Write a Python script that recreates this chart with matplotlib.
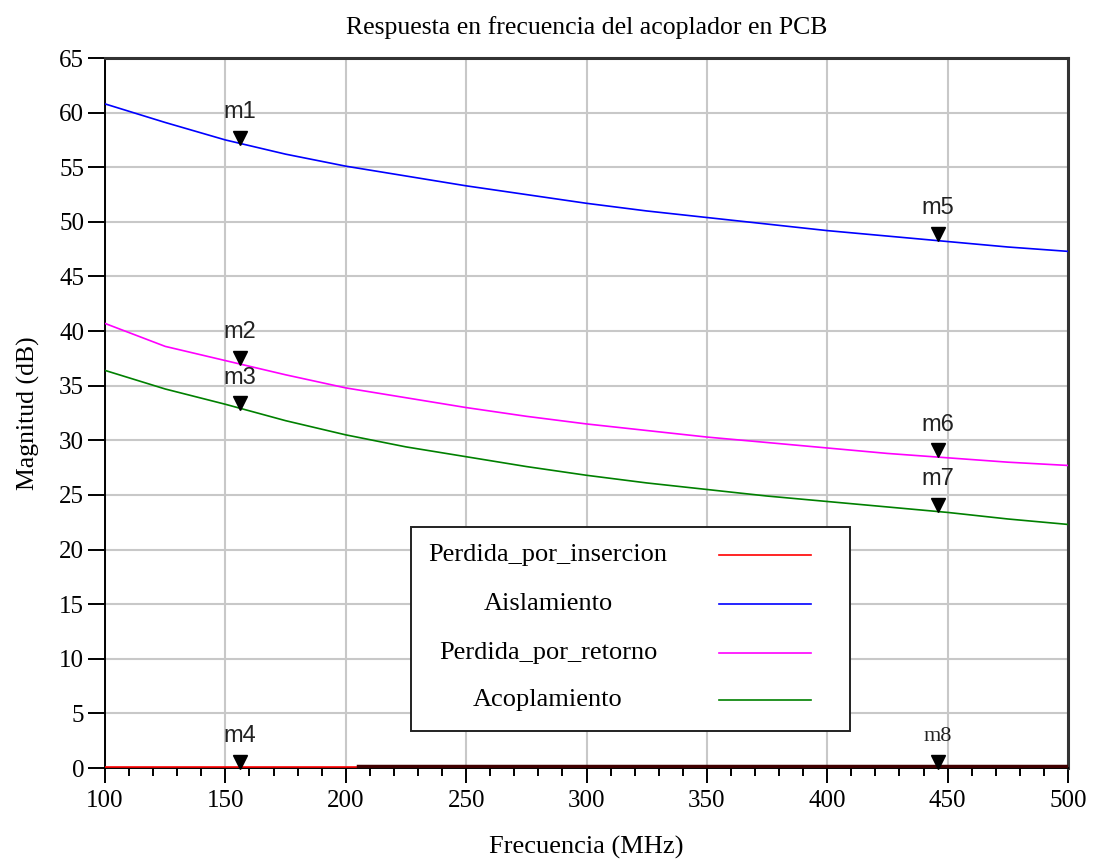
import numpy as np
import matplotlib
matplotlib.use('Agg')
import matplotlib.pyplot as plt
from matplotlib.patches import Rectangle
from matplotlib.transforms import offset_copy

# frequency grid (MHz) and traces (dB)
freq = [100, 125, 150, 175, 200, 225, 250, 275, 300, 325, 350, 375, 400, 425, 450, 475, 500]
aislamiento = [60.8, 59.1, 57.5, 56.2, 55.1, 54.2, 53.3, 52.5, 51.7, 51.0, 50.4, 49.8, 49.2, 48.7, 48.2, 47.7, 47.3]
perdida_retorno = [40.7, 38.6, 37.3, 36.0, 34.8, 33.9, 33.0, 32.2, 31.5, 30.9, 30.3, 29.8, 29.3, 28.8, 28.4, 28.0, 27.7]
acoplamiento = [36.4, 34.7, 33.3, 31.8, 30.5, 29.4, 28.5, 27.6, 26.8, 26.1, 25.5, 24.9, 24.4, 23.9, 23.4, 22.8, 22.3]
perdida_insercion = [0.05] * len(freq)
# darker overlapping trace near 0 dB from ~205 MHz
freq_dark = [205, 500]
dark_trace = [0.15, 0.15]

series_names = ['Perdida_por_insercion', 'Aislamiento', 'Perdida_por_retorno', 'Acoplamiento']
series_colors = ['#ff0000', '#0000ff', '#ff00ff', '#008000']

# markers: name, frequency, value
marker_names = ['m1', 'm2', 'm3', 'm4', 'm5', 'm6', 'm7', 'm8']
marker_freq = [156, 156, 156, 156, 446, 446, 446, 446]
marker_vals = [57.1, 37.0, 32.8, 0.0, 48.3, 28.5, 23.5, 0.0]

SERIF = 'Liberation Serif'

fig = plt.figure(figsize=(10.93, 8.61), dpi=100)
ax = fig.add_axes([0.0961, 0.1080, 0.8810, 0.8246])

for vals, c in zip([perdida_insercion, aislamiento, perdida_retorno, acoplamiento], series_colors):
    ax.plot(freq, vals, color=c, lw=1.2, zorder=3)
ax.plot(freq_dark, dark_trace, color='#400000', lw=2.5, zorder=3)

tri_trans = offset_copy(ax.transData, fig=fig, x=0, y=4.5, units='points')
ax.plot(marker_freq, marker_vals, ls='none', marker='v', ms=10, color='black',
        transform=tri_trans, zorder=5, clip_on=False)
for name, f, v in zip(marker_names, marker_freq, marker_vals):
    if name == 'm8':
        fam, fs = SERIF, 16
    else:
        fam, fs = 'Liberation Sans', 17
    ax.annotate(name, (f, v), xytext=(0, 23), textcoords='offset points',
                ha='center', va='center', fontsize=fs, family=fam,
                color='#222222', zorder=6)

ax.set_xlim(100, 500)
ax.set_ylim(0, 65)
ax.set_xticks(np.arange(100, 501, 50))
ax.set_xticks(np.arange(100, 501, 10), minor=True)
ax.set_yticks(np.arange(0, 66, 5))
ax.grid(True, which='major', color='#c8c8c8', lw=1.5, zorder=0)
ax.set_axisbelow(True)

for lab in ax.get_xticklabels() + ax.get_yticklabels():
    lab.set_family(SERIF)
    lab.set_fontsize(18)
ax.tick_params(axis='x', which='major', direction='out', length=11, width=1.4, pad=5, colors='black')
ax.tick_params(axis='x', which='minor', direction='out', length=6, width=1.4)
ax.tick_params(axis='y', which='major', direction='out', length=12, width=1.4, pad=3)

for side in ['left', 'bottom']:
    ax.spines[side].set_linewidth(1.4)
    ax.spines[side].set_color('black')
for side in ['top', 'right']:
    ax.spines[side].set_linewidth(2.2)
    ax.spines[side].set_color('#333333')

ax.set_title('Respuesta en frecuencia del acoplador en PCB', family=SERIF,
             fontsize=18.5, pad=17.5)
ax.set_xlabel('Frecuencia (MHz)', family=SERIF, fontsize=19, labelpad=17)
ax.set_ylabel('Magnitud (dB)', family=SERIF, fontsize=18.5, labelpad=14)

# hand-drawn legend box: centered labels on the left, line samples on the right
ax.add_patch(Rectangle((0.318, 0.052), 0.456, 0.287, transform=ax.transAxes,
                       facecolor='white', edgecolor='#222222', lw=1.4, zorder=7))
row_y = [0.300, 0.231, 0.162, 0.096]
for name, c, yy in zip(series_names, series_colors, row_y):
    ax.text(0.460, yy, name, transform=ax.transAxes, ha='center', va='center',
            family=SERIF, fontsize=19, zorder=8)
    ax.plot([0.638, 0.733], [yy, yy], transform=ax.transAxes, color=c, lw=1.2, zorder=8)

fig.savefig('out.png', dpi=100)
